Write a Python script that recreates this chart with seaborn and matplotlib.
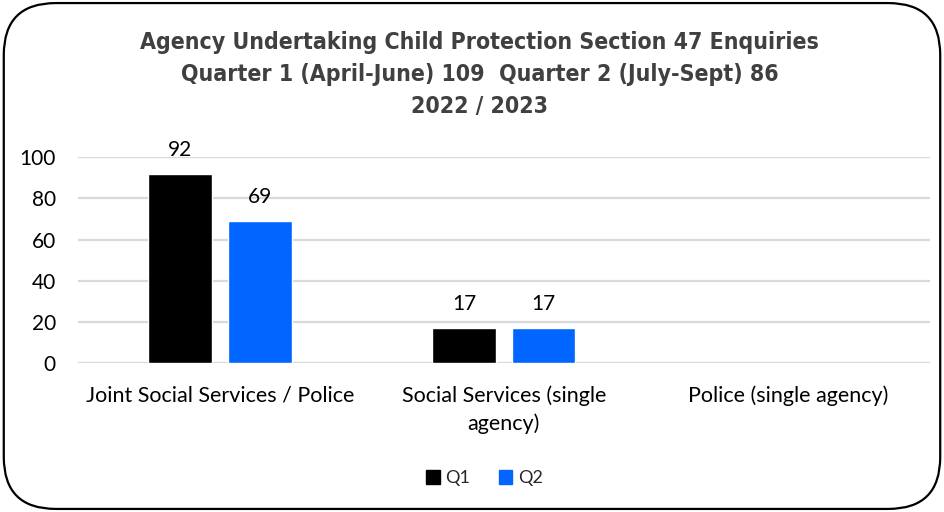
import matplotlib
matplotlib.use("Agg")
import matplotlib.pyplot as plt
import seaborn as sns
import pandas as pd
import numpy as np
from matplotlib.patches import FancyBboxPatch, Patch

categories = ["Joint Social Services / Police", "Social Services (single\nagency)", "Police (single agency)"]
q1_values = [92, 17, np.nan]
q2_values = [69, 17, np.nan]
series = ["Q1", "Q2"]
colors = ["#000000", "#0066FF"]
yticks = [0, 20, 40, 60, 80, 100]
title = ("Agency Undertaking Child Protection Section 47 Enquiries\n"
         "Quarter 1 (April-June) 109  Quarter 2 (July-Sept) 86\n"
         "2022 / 2023")

df = pd.DataFrame({
    "Category": categories * 2,
    "Quarter": ["Q1"] * 3 + ["Q2"] * 3,
    "Value": q1_values + q2_values,
})

sns.set_theme(style="white")
plt.rcParams["font.family"] = ["Lato", "DejaVu Sans"]

fig = plt.figure(figsize=(9.44, 5.12), dpi=100)
ax = fig.add_axes([0.0826, 0.291, 0.9024, 0.402])

sns.barplot(data=df, x="Category", y="Value", hue="Quarter", order=categories,
            hue_order=series, palette=colors, width=0.56, gap=0.2,
            saturation=1, ax=ax, legend=False, errorbar=None)

for cont in ax.containers:
    labels = ["" if np.isnan(v) else f"{v:.0f}" for v in cont.datavalues]
    ax.bar_label(cont, labels=labels, padding=10, fontsize=15, color="#000000")

ax.set_ylim(0, 100)
ax.set_yticks(yticks)
ax.yaxis.grid(True, color="#d9d9d9", linewidth=1.6)
ax.set_axisbelow(True)
for s in ax.spines.values():
    s.set_visible(False)
ax.set_xlabel("")
ax.set_ylabel("")
ax.tick_params(axis="y", length=0, pad=16, labelsize=15, labelcolor="#000000")
ax.tick_params(axis="x", length=0, pad=16, labelsize=15.5, labelcolor="#000000")
for lab in ax.get_xticklabels():
    lab.set_linespacing(1.45)

fig.suptitle(title, x=0.508, y=0.94, fontsize=16.6, fontweight="bold",
             color="#404040", family="DejaVu Sans", fontstretch="condensed",
             linespacing=1.52)

handles = [Patch(facecolor=c, edgecolor=c, label=l) for c, l in zip(colors, series)]
fig.legend(handles=handles, loc="center", bbox_to_anchor=(0.513, 0.066), ncol=2,
           frameon=False, fontsize=13, handlelength=0.75, handleheight=0.75,
           handletextpad=0.3, columnspacing=1.6)

border = FancyBboxPatch((0.004, 0.006), 0.992, 0.988, boxstyle="round,pad=0,rounding_size=0.055",
                        transform=fig.transFigure, fill=False, edgecolor="#000000",
                        linewidth=1.6, mutation_aspect=944/512)
fig.patches.append(border)

fig.savefig("out.png", dpi=100, facecolor="white")
